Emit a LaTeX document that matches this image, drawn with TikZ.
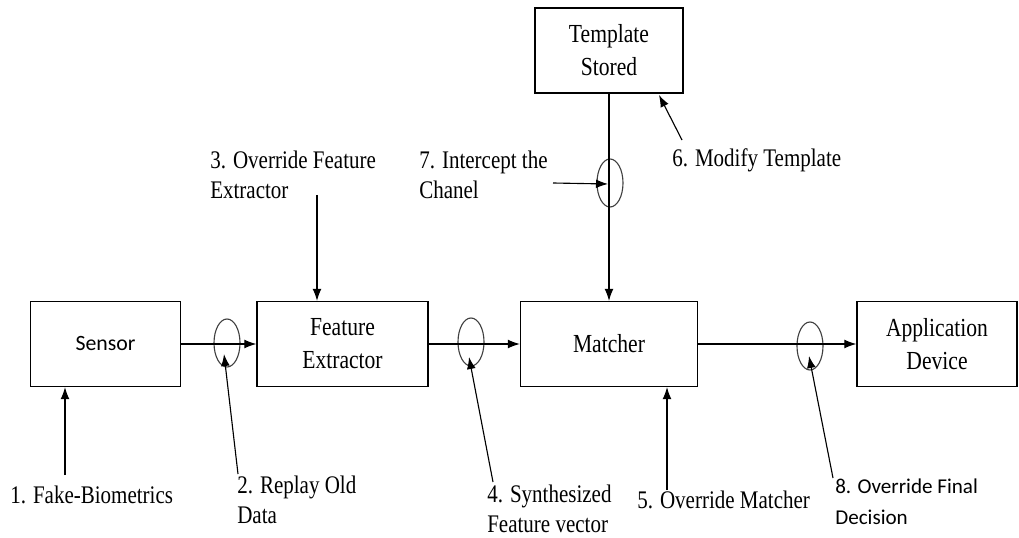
\documentclass[tikz,border=0pt]{standalone}
\usepackage{fontspec}
\setmainfont{Liberation Serif}[FakeStretch=0.83]
\setsansfont{Carlito}
\usetikzlibrary{arrows.meta,shapes.geometric}

\begin{document}
\begin{tikzpicture}[
    x=0.025cm, y=-0.025cm,
    block/.style={rectangle, draw, line width=0.8pt, minimum height=2.125cm, align=center, font=\fontsize{18.5}{23.5}\selectfont},
    tap/.style={ellipse, draw=black!75, line width=0.8pt, minimum width=0.65cm, minimum height=1.2cm, inner sep=0pt},
    flow/.style={line width=0.8pt, -{Latex[length=0.3cm,width=0.22cm]}},
    attack/.style={flow},
    lbl/.style={align=left, inner sep=0pt, anchor=west, font=\fontsize{18}{21.5}\selectfont}
]
\useasboundingbox (0,0) rectangle (1019,538);

% blocks of the system
\node[block, minimum width=3.75cm, font=\sffamily\fontsize{15.5}{18}\selectfont] (sensor) at (105.5,344) {Sensor};
\node[block, minimum width=4.275cm] (fe) at (342.5,344) {Feature\\Extractor};
\node[block, minimum width=4.425cm] (matcher) at (609,344) {Matcher};
\node[block, minimum width=4.0cm] (app) at (937,344) {Application\\Device};
\node[block, minimum width=3.7cm] (tpl) at (609,50.5) {Template\\Stored};

% points of attack on the channels
\node[tap] (t1) at (227,343) {};
\node[tap] (t2) at (471,342) {};
\node[tap] (t3) at (810,346) {};
\node[tap] (t4) at (610,183) {};

\draw[flow] (sensor) -- (fe);
\draw[flow] (fe) -- (matcher);
\draw[flow] (matcher) -- (app);
\draw[flow] (tpl) -- (matcher);

% attacks
\coordinate (s1) at (65,475);
\coordinate (s2) at (238,474);
\coordinate (e2) at (224,354);
\coordinate (s3) at (317,195);
\coordinate (s4) at (493,482);
\coordinate (e4) at (469,357);
\coordinate (s5) at (667,490);
\coordinate (s6) at (682,140);
\coordinate (e6) at (659,95);
\coordinate (s7) at (553,183);
\coordinate (e7) at (608,184);
\coordinate (s8) at (833,478);
\coordinate (e8) at (809,356);

\draw[attack] (s1) -- (s1 |- sensor.south);
\draw[attack] (s2) -- (e2);
\draw[attack] (s3) -- (s3 |- fe.north);
\draw[attack] (s4) -- (e4);
\draw[attack] (s5) -- (s5 |- matcher.south);
\draw[attack] (s6) -- (e6);
\draw[attack] (s7) -- (e7);
\draw[attack] (s8) -- (e8);

\node[lbl] (l1) at (10,495) {1. Fake-Biometrics};
\node[lbl] (l2) at (237,500) {2. Replay Old\\Data};
\node[lbl] (l3) at (210,175) {3. Override Feature\\Extractor};
\node[lbl] (l4) at (487,509) {4. Synthesized\\Feature vector};
\node[lbl] (l5) at (637,500) {5. Override Matcher};
\node[lbl] (l6) at (672,160) {6. Modify Template};
\node[lbl] (l7) at (419,175) {7. Intercept the\\Chanel};
\node[lbl, font=\sffamily\fontsize{15}{22}\selectfont] (l8) at (835,502) {8. Override Final\\Decision};

\end{tikzpicture}
\end{document}
